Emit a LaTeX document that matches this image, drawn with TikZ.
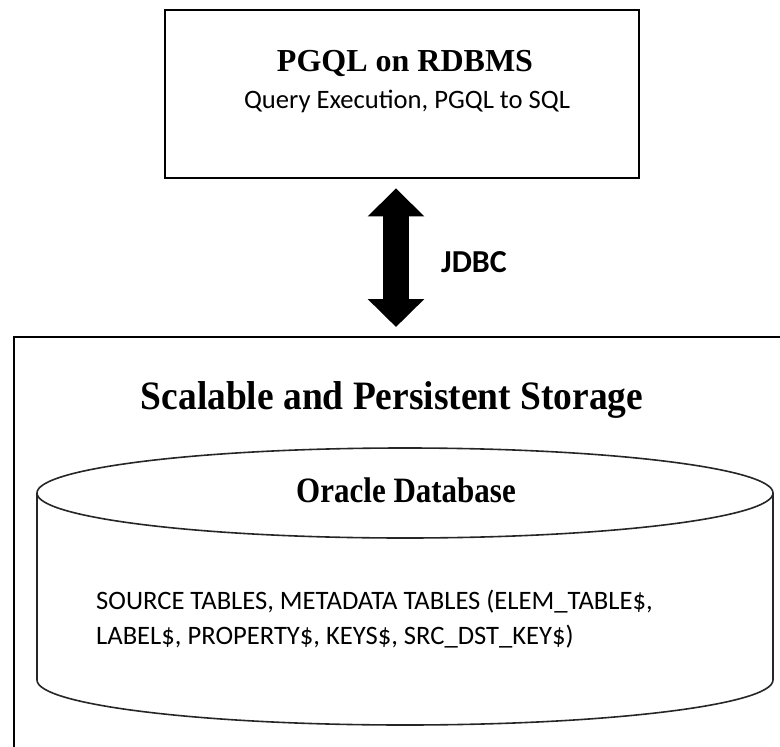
\documentclass[tikz,border=0pt]{standalone}
\usepackage{fontspec}
\usepackage{graphicx}
\setmainfont{Liberation Serif}
\newfontfamily\calfont{Carlito}
\usetikzlibrary{arrows.meta}
\tikzset{
  frame/.style={draw=black, line width=2.8pt, inner sep=0pt},
  cyl/.style={draw=black!85, line width=1.6pt},
  fat/.style={line width=26pt, {Triangle[length=28pt,width=55pt]}-{Triangle[length=28pt,width=55pt]}},
  titletext/.style={font=\bfseries\fontsize{32}{36}\selectfont, inner sep=0pt},
  bigtitle/.style={font=\bfseries\fontsize{36}{40}\selectfont, inner sep=0pt},
  caltext/.style={font=\calfont\fontsize{26.6}{30}\selectfont, inner sep=0pt},
}
\begin{document}
\begin{tikzpicture}[x=1pt,y=-1pt]
\useasboundingbox (0,0) rectangle (780,747);
% top box
\node[frame, minimum width=474pt, minimum height=168pt] (top) at (402,94) {};
\node[titletext] (t1) at (405,63) {PGQL on RDBMS};
\node[caltext] (t2) at (407,101) {Query Execution, PGQL to SQL};
% storage box
\draw[frame] (14,337) rectangle (800,770);
\coordinate (storetop) at (396,337);
\node[bigtitle] (st) at (392,400) {\scalebox{1.04}[1.12]{Scalable and Persistent Storage}};
% arrow
\coordinate (ax) at (396,0);
\draw[fat, shorten <=9pt, shorten >=10pt] (top.south -| ax) -- (storetop);
\node[font=\calfont\bfseries\fontsize{32}{36}\selectfont, anchor=west, inner sep=0pt] (jdbc) at (441,262) {JDBC};
% cylinder
\draw[cyl] (37,493) -- (37,680) arc[start angle=180, end angle=360, x radius=368pt, y radius=45pt] -- (773,493);
\draw[cyl] (405,493) ellipse[x radius=368pt, y radius=45pt];
\node[bigtitle, font=\bfseries\fontsize{31}{36}\selectfont] (db) at (406,490) {\scalebox{1}[1.15]{Oracle Database}};
\node[caltext, anchor=west] (s1) at (96,602) {SOURCE TABLES, METADATA TABLES (ELEM\_TABLE\$,};
\node[caltext, anchor=west] (s2) at (96,637) {LABEL\$, PROPERTY\$, KEYS\$, SRC\_DST\_KEY\$)};
\end{tikzpicture}
\end{document}
